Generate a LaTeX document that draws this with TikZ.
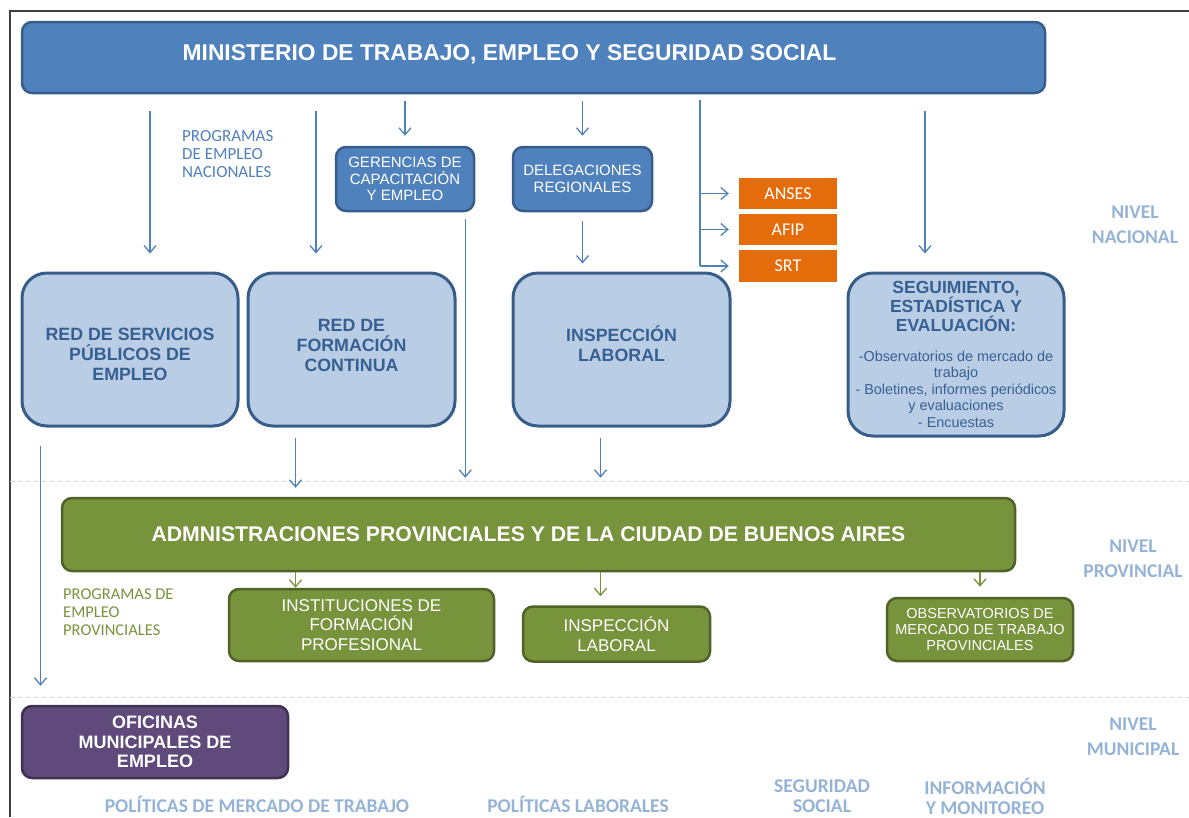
\documentclass[tikz,border=0pt]{standalone}
\usepackage{fontspec}
\setmainfont{Liberation Sans}
\newfontfamily\calib{Carlito}
\usepackage{xcolor}
\usepackage{tikz}
\usetikzlibrary{arrows.meta,positioning,calc}

\definecolor{minblue}{HTML}{4F81BD}
\definecolor{minborder}{HTML}{385D8A}
\definecolor{lightfill}{HTML}{B9CDE5}
\definecolor{darktext}{HTML}{376092}
\definecolor{orangefill}{HTML}{E46C0A}
\definecolor{greenfill}{HTML}{77933C}
\definecolor{greenborder}{HTML}{4F6228}
\definecolor{purplefill}{HTML}{604A7B}
\definecolor{purpleborder}{HTML}{3F3151}
\definecolor{leveltext}{HTML}{95B3D7}
\definecolor{sepgray}{HTML}{D9D9D9}
\newcommand{\setfs}[2]{\fontsize{#1}{#2}\selectfont}

\begin{document}
\begin{tikzpicture}[x=1pt, y=-1pt,
    darkbox/.style={draw=minborder, fill=minblue, line width=2.5pt, rounded corners=10pt,
      text=white, align=center, inner sep=0pt},
    lightbox/.style={draw=minborder, fill=lightfill, line width=3pt, rounded corners=25pt,
      text=darktext, align=center, inner sep=0pt, font=\bfseries\setfs{17.8}{20}},
    lighttxt/.style={text=darktext, align=center, inner sep=0pt, font=\bfseries\setfs{17.8}{20}},
    greenbox/.style={draw=greenborder, fill=greenfill, line width=2.5pt, rounded corners=10pt,
      text=white, align=center, inner sep=0pt},
    orangebox/.style={fill=orangefill, text=white, minimum width=98, minimum height=31,
      inner sep=0pt, font=\calib\setfs{18}{20}},
    purplebox/.style={draw=purpleborder, fill=purplefill, line width=2.5pt, rounded corners=10pt,
      text=white, align=center, inner sep=0pt, font=\bfseries\setfs{18}{19.5}},
    level/.style={text=leveltext, align=center, inner sep=0pt, font=\calib\bfseries\setfs{19.5}{25}},
    arr/.style={draw=minblue, line width=1.3pt, -{Straight Barb[length=7pt,width=12pt]}},
    garr/.style={draw=greenfill, line width=1.3pt, -{Straight Barb[length=7pt,width=12pt]}},
    sep/.style={draw=sepgray, line width=1pt, dash pattern=on 5pt off 3pt}]
\useasboundingbox (0,0) rectangle (1189,817);

% frame and level separators
\draw[draw=black!75, line width=1.5pt] (1189,11) -- (10,11) -- (10,817);
\draw[sep] (10,481) -- (1189,481);
\draw[sep] (10,697) -- (1189,697);

% national level
\node[darkbox, minimum width=1023, minimum height=71,
  label={[text=white, font=\bfseries\setfs{22.8}{26}, xshift=-24pt, yshift=3pt]center:MINISTERIO DE TRABAJO, EMPLEO Y SEGURIDAD SOCIAL}]
  (min) at (533.5,57.5) {};
\node[darkbox, minimum width=138, minimum height=64, font=\setfs{15}{16.5}] (ger) at (405,179)
  {GERENCIAS DE\\CAPACITACIÓN\\Y EMPLEO};
\node[darkbox, minimum width=139, minimum height=64, font=\setfs{15}{16.5}] (del) at (582.5,179)
  {DELEGACIONES\\REGIONALES};
\node[orangebox] (anses) at (788,193.5) {ANSES};
\node[orangebox] (afip) at (788,229.5) {AFIP};
\node[orangebox, minimum height=32] (srt) at (788,266) {SRT};

\node[lightbox, minimum width=216, minimum height=153,
  label={[lighttxt, yshift=-4.5pt]center:RED DE SERVICIOS\\PÚBLICOS DE\\EMPLEO}] (rsp) at (130,349.5) {};
\node[lightbox, minimum width=207, minimum height=153,
  label={[lighttxt, yshift=4.5pt]center:RED DE\\FORMACIÓN\\CONTINUA}] (rfc) at (351.5,349.5) {};
\node[lightbox, minimum width=217, minimum height=153,
  label={[lighttxt, yshift=5.5pt]center:INSPECCIÓN\\LABORAL}] (insp) at (621.5,349.5) {};
\node[lightbox, minimum width=216, minimum height=163] (seg) at (956,354.5)
  {\begin{minipage}{214pt}\centering\bfseries\setfs{17.5}{19}%
   SEGUIMIENTO,\\ESTADÍSTICA Y\\EVALUACIÓN:\par\vspace{13pt}%
   \normalfont\setfs{14.4}{16.5}-Observatorios de mercado de\\trabajo\\- Boletines, informes periódicos\\
   y evaluaciones\\- Encuestas\end{minipage}};

\node[text=minblue, align=left, anchor=west, inner sep=0pt, font=\calib\setfs{17}{18}] (prognac) at (182,154)
  {PROGRAMAS\\DE EMPLEO\\NACIONALES};

% provincial level
\node[greenbox, minimum width=953, minimum height=73,
  label={[text=white, font=\bfseries\setfs{21.2}{24}, xshift=-10pt]center:ADMNISTRACIONES PROVINCIALES Y DE LA CIUDAD DE BUENOS AIRES}]
  (adm) at (538.5,534.5) {};
\node[greenbox, minimum width=265, minimum height=72, font=\setfs{17}{19.5}] (ifp) at (361.5,625)
  {INSTITUCIONES DE\\FORMACIÓN\\PROFESIONAL};
\node[greenbox, minimum width=187, minimum height=55, font=\setfs{17}{19.5}] (ilg) at (616.5,634)
  {INSPECCIÓN\\LABORAL};
\node[greenbox, minimum width=186, minimum height=63, font=\setfs{14.5}{16}] (obs) at (980,629.5)
  {OBSERVATORIOS DE\\MERCADO DE TRABAJO\\PROVINCIALES};
\node[text=greenfill, align=left, anchor=west, inner sep=0pt, font=\calib\setfs{16.5}{18}] (progprov) at (63,612)
  {PROGRAMAS DE\\EMPLEO\\PROVINCIALES};

% municipal level
\node[purplebox, minimum width=266, minimum height=72] (ofi) at (155,742)
  {OFICINAS\\MUNICIPALES DE\\EMPLEO};

% level and policy labels
\node[level] (nnac) at (1135,224.5) {NIVEL\\NACIONAL};
\node[level] (nprov) at (1133,559) {NIVEL\\PROVINCIAL};
\node[level] (nmun) at (1133,737) {NIVEL\\MUNICIPAL};
\node[level] (polmt) at (257,804) {POLÍTICAS DE MERCADO DE TRABAJO};
\node[level] (pollab) at (578,804) {POLÍTICAS LABORALES};
\node[level, font=\calib\bfseries\setfs{19.5}{20}] (segsoc) at (822,796) {SEGURIDAD\\SOCIAL};
\node[level, font=\calib\bfseries\setfs{19.5}{20}] (infmon) at (985,796) {INFORMACIÓN\\Y MONITOREO};

% connectors
\coordinate (t1) at (150,111);
\coordinate (t2) at (316,111);
\coordinate (t3) at (700,100);
\coordinate (t4) at (925,111);
\coordinate (t5) at ([xshift=20pt]rsp.south west);
\coordinate (t6) at ([xshift=49pt]rfc.south west);
\coordinate (t7) at ([xshift=-10pt]ger.south east);
\coordinate (t8) at ([xshift=-21pt]insp.south);

\draw[arr, shorten >=18pt] (t1) -- (t1 |- rsp.north);
\draw[arr, shorten >=18pt] (t2) -- (t2 |- rfc.north);
\draw[arr, shorten <=7pt, shorten >=10pt] (min.south -| ger.north) -- (ger.north);
\draw[arr, shorten <=7pt, shorten >=10pt] (min.south -| del.north) -- (del.north);
\draw[arr, shorten >=18pt] (t4) -- (t4 |- seg.north);
\draw[draw=minblue, line width=1.3pt] (t3) -- (t3 |- srt.west);
\foreach \o in {anses,afip,srt}
  \draw[arr, shorten >=10pt] (t3 |- \o.west) -- (\o.west);
\draw[arr, shorten <=9pt, shorten >=8pt] (del.south) -- (del.south |- insp.north);

\draw[arr, shorten <=18pt, shorten >=19pt] (t5) -- (t5 |- ofi.north);
\draw[arr, shorten <=10pt, shorten >=9pt] (t6) -- (t6 |- adm.north);
\draw[arr, shorten <=7pt, shorten >=19pt] (t7) -- (t7 |- adm.north);
\draw[arr, shorten <=10pt, shorten >=19pt] (t8) -- (t8 |- adm.north);

\draw[garr] (t6 |- adm.south) -- (t6 |- ifp.north);
\draw[garr, shorten >=9pt] (t8 |- adm.south) -- (t8 |- ilg.north);
\draw[garr, shorten >=10pt] (obs.north |- adm.south) -- (obs.north);
\end{tikzpicture}
\end{document}
